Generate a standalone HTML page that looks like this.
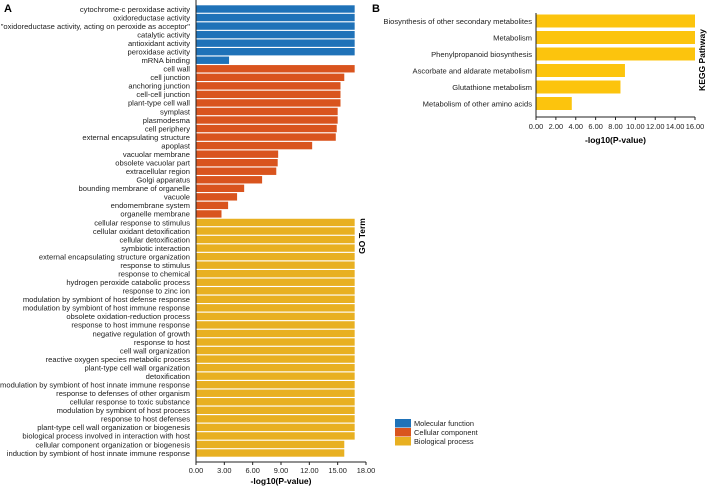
<!DOCTYPE html>
<html><head><meta charset="utf-8"><style>
html,body{margin:0;padding:0;background:#fff;}
svg{display:block;font-family:"Liberation Sans",Arial,sans-serif;}
</style></head><body>
<svg id="chart" width="708" height="487"></svg>
<script>
const goTerms=["cytochrome-c peroxidase activity","oxidoreductase activity","\"oxidoreductase activity, acting on peroxide as acceptor\"","catalytic activity","antioxidant activity","peroxidase activity","mRNA binding","cell wall","cell junction","anchoring junction","cell-cell junction","plant-type cell wall","symplast","plasmodesma","cell periphery","external encapsulating structure","apoplast","vacuolar membrane","obsolete vacuolar part","extracellular region","Golgi apparatus","bounding membrane of organelle","vacuole","endomembrane system","organelle membrane","cellular response to stimulus","cellular oxidant detoxification","cellular detoxification","symbiotic interaction","external encapsulating structure organization","response to stimulus","response to chemical","hydrogen peroxide catabolic process","response to zinc ion","modulation by symbiont of host defense response","modulation by symbiont of host immune response","obsolete oxidation-reduction process","response to host immune response","negative regulation of growth","response to host","cell wall organization","reactive oxygen species metabolic process","plant-type cell wall organization","detoxification","modulation by symbiont of host innate immune response","response to defenses of other organism","cellular response to toxic substance","modulation by symbiont of host process","response to host defenses","plant-type cell wall organization or biogenesis","biological process involved in interaction with host","cellular component organization or biogenesis","induction by symbiont of host innate immune response"];
const goValues=[16.8,16.8,16.8,16.8,16.8,16.8,3.5,16.8,15.7,15.3,15.3,15.3,15.0,15.0,14.9,14.8,12.3,8.7,8.65,8.5,7.0,5.1,4.35,3.4,2.7,16.8,16.8,16.8,16.8,16.8,16.8,16.8,16.8,16.8,16.8,16.8,16.8,16.8,16.8,16.8,16.8,16.8,16.8,16.8,16.8,16.8,16.8,16.8,16.8,16.8,16.8,15.7,15.7];
const goCategory=[0,0,0,0,0,0,0,1,1,1,1,1,1,1,1,1,1,1,1,1,1,1,1,1,1,2,2,2,2,2,2,2,2,2,2,2,2,2,2,2,2,2,2,2,2,2,2,2,2,2,2,2,2];
const goTicks=["0.00","3.00","6.00","9.00","12.00","15.00","18.00"];
const keggTerms=["Biosynthesis of other secondary metabolites","Metabolism","Phenylpropanoid biosynthesis","Ascorbate and aldarate metabolism","Glutathione metabolism","Metabolism of other amino acids"];
const keggValues=[16,16,16,8.95,8.5,3.6];
const keggTicks=["0.00","2.00","4.00","6.00","8.00","10.00","12.00","14.00","16.00"];
const legendLabels=["Molecular function","Cellular component","Biological process"];

const NS="http://www.w3.org/2000/svg";
const svg=document.getElementById('chart');
const colors=["#1f72b8","#d9541e","#e8b021"];
function el(tag,attrs,parent,text){const e=document.createElementNS(NS,tag);for(const k in attrs)e.setAttribute(k,attrs[k]);if(text!==undefined)e.textContent=text;(parent||svg).appendChild(e);return e;}

// Panel A
const ax0=196,axPx=(366-196)/18;
const xA=v=>ax0+v*axPx;
const yTop=9,ySp=(453-9)/(goTerms.length-1);
const yA=i=>yTop+i*ySp;
const t1=el('text',{x:4,y:12,'font-size':11,'font-weight':'bold'},svg,'A');


goTerms.forEach((t,i)=>{
  const r=el('rect',{x:xA(0),y:yA(i)-3.7,width:xA(goValues[i])-xA(0),height:7.4,fill:colors[goCategory[i]]});
  
  
  const tx=el('text',{x:190,y:yA(i)+2.8,'font-size':7.6,'text-anchor':'end',fill:'#222'},svg,t);
  
  
});
const axA=el('line',{x1:ax0,y1:0,x2:ax0,y2:462,stroke:'#222','stroke-width':1});


const axAx=el('line',{x1:ax0,y1:462,x2:xA(18),y2:462,stroke:'#222','stroke-width':1});


goTicks.forEach((t,i)=>{
  const v=parseFloat(t);
  el('line',{x1:xA(v),y1:462,x2:xA(v),y2:465,stroke:'#222'});
  const tt=el('text',{x:xA(v),y:473,'font-size':7.4,'text-anchor':'middle',fill:'#222'},svg,t);
  
  
});
const xtA=el('text',{x:xA(9),y:484,'font-size':8.5,'font-weight':'bold','text-anchor':'middle'},svg,'-log10(P-value)');


const gt=el('text',{x:0,y:0,'font-size':8.5,'font-weight':'bold','text-anchor':'middle',transform:'translate(365,236) rotate(-90)'},svg,'GO Term');



// Legend
legendLabels.forEach((l,i)=>{
  const r=el('rect',{x:395,y:419+i*9,width:16,height:8.5,fill:colors[i]});
  
  
  const t=el('text',{x:414,y:426+i*9,'font-size':7.4,fill:'#222'},svg,l);
  
  
});

// Panel B
const bx0=536,bPx=(695-536)/16;
const xB=v=>bx0+v*bPx;
const yB=i=>21+i*16.5;
const t2=el('text',{x:372,y:12,'font-size':11,'font-weight':'bold'},svg,'B');


keggTerms.forEach((t,i)=>{
  const r=el('rect',{x:xB(0),y:yB(i)-6.5,width:xB(keggValues[i])-xB(0),height:13,fill:'#fcc40d'});
  
  
  const tx=el('text',{x:532,y:yB(i)+2.8,'font-size':7.6,'text-anchor':'end',fill:'#222'},svg,t);
  
  
});
const axB=el('line',{x1:bx0,y1:13,x2:bx0,y2:117,stroke:'#222'});


const axBx=el('line',{x1:bx0,y1:117,x2:xB(16),y2:117,stroke:'#222'});


keggTicks.forEach(t=>{
  const v=parseFloat(t);
  el('line',{x1:xB(v),y1:117,x2:xB(v),y2:120,stroke:'#222'});
  const tt=el('text',{x:xB(v),y:129,'font-size':7.4,'text-anchor':'middle',fill:'#222'},svg,t);
  
  
});
const xtB=el('text',{x:xB(8),y:143,'font-size':8.5,'font-weight':'bold','text-anchor':'middle'},svg,'-log10(P-value)');


const kt=el('text',{x:0,y:0,'font-size':8.5,'font-weight':'bold','text-anchor':'middle',transform:'translate(705,60) rotate(-90)'},svg,'KEGG Pathway');


</script>
</body></html>
